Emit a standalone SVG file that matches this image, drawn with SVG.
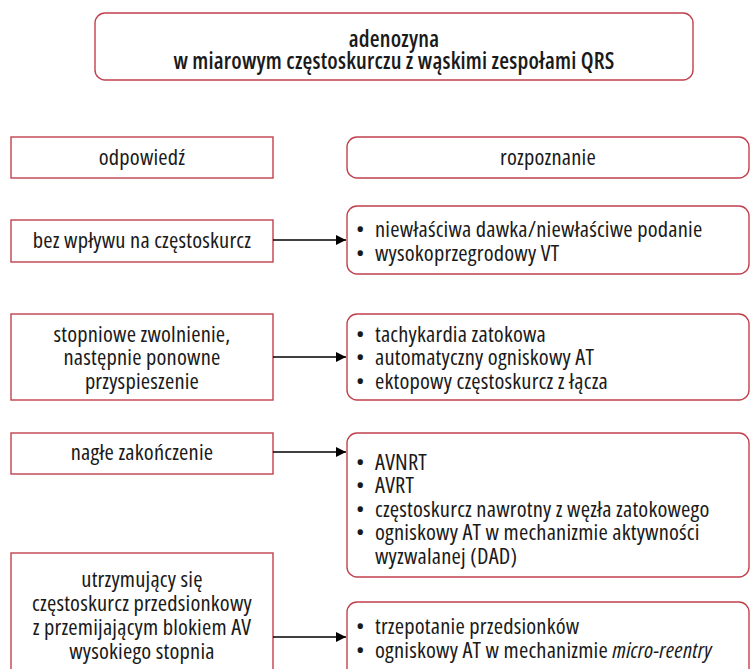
<svg xmlns="http://www.w3.org/2000/svg" width="750" height="669" viewBox="0 0 750 669">
  <style>
    .box { fill: #ffffff; stroke: #c2404d; stroke-width: 1.4; }
    .t { font-family: "Open Sans", "Noto Sans", "DejaVu Sans", sans-serif; font-stretch: 75%; font-size: 22.5px; letter-spacing: 0.2px; fill: #1a1a1a; }
    .c { text-anchor: middle; }
    .b { font-weight: 600; }
    .link { stroke: #000000; stroke-width: 1.4; fill: none; marker-end: url(#arrow); }
  </style>
  <defs>
    <marker id="arrow" viewBox="0 0 10 10" refX="10" refY="5" markerWidth="10" markerHeight="10" markerUnits="userSpaceOnUse" orient="auto">
      <path d="M0,0 L10,5 L0,10 Z" fill="#000000"/>
    </marker>
  </defs>

  <!-- title -->
  <g id="title">
    <rect class="box" x="95" y="13" width="598" height="67" rx="10"/>
    <text class="t c b" x="394" y="47">adenozyna</text>
    <text class="t c b" x="394" y="69">w miarowym częstoskurczu z wąskimi zespołami QRS</text>
  </g>

  <!-- column headers -->
  <g id="head-response">
    <rect class="box" x="11" y="137" width="262" height="41"/>
    <text class="t c" x="142" y="165">odpowiedź</text>
  </g>
  <g id="head-diagnosis">
    <rect class="box" x="347" y="137" width="402" height="41" rx="10"/>
    <text class="t c" x="548" y="165">rozpoznanie</text>
  </g>

  <!-- responses -->
  <g id="resp-none">
    <rect class="box" x="11" y="220" width="262" height="42"/>
    <text class="t c" x="142" y="248">bez wpływu na częstoskurcz</text>
  </g>
  <g id="resp-slowing">
    <rect class="box" x="11" y="314" width="262" height="86"/>
    <text class="t c" x="142" y="342">stopniowe zwolnienie,</text>
    <text class="t c" x="142" y="365">następnie ponowne</text>
    <text class="t c" x="142" y="389">przyspieszenie</text>
  </g>
  <g id="resp-termination">
    <rect class="box" x="11" y="433" width="262" height="41"/>
    <text class="t c" x="142" y="460">nagłe zakończenie</text>
  </g>
  <g id="resp-avblock">
    <rect class="box" x="11" y="553" width="262" height="120"/>
    <text class="t c" x="142" y="587">utrzymujący się</text>
    <text class="t c" x="142" y="611">częstoskurcz przedsionkowy</text>
    <text class="t c" x="142" y="635">z przemijającym blokiem AV</text>
    <text class="t c" x="142" y="659">wysokiego stopnia</text>
  </g>

  <!-- diagnoses -->
  <g id="dx-none">
    <rect class="box" x="347" y="206" width="402" height="68" rx="10"/>
    <text class="t" x="356" y="237">•</text><text class="t" x="375" y="237">niewłaściwa dawka/niewłaściwe podanie</text>
    <text class="t" x="356" y="261">•</text><text class="t" x="375" y="261">wysokoprzegrodowy VT</text>
  </g>
  <g id="dx-slowing">
    <rect class="box" x="347" y="314" width="402" height="86" rx="10"/>
    <text class="t" x="356" y="342">•</text><text class="t" x="375" y="342">tachykardia zatokowa</text>
    <text class="t" x="356" y="365">•</text><text class="t" x="375" y="365">automatyczny ogniskowy AT</text>
    <text class="t" x="356" y="389">•</text><text class="t" x="375" y="389">ektopowy częstoskurcz z łącza</text>
  </g>
  <g id="dx-termination">
    <rect class="box" x="347" y="433" width="402" height="144" rx="10"/>
    <text class="t" x="356" y="470">•</text><text class="t" x="375" y="470">AVNRT</text>
    <text class="t" x="356" y="493">•</text><text class="t" x="375" y="493">AVRT</text>
    <text class="t" x="356" y="517">•</text><text class="t" x="375" y="517">częstoskurcz nawrotny z węzła zatokowego</text>
    <text class="t" x="356" y="540">•</text><text class="t" x="375" y="540">ogniskowy AT w mechanizmie aktywności</text>
    <text class="t" x="375" y="564">wyzwalanej (DAD)</text>
  </g>
  <g id="dx-avblock">
    <rect class="box" x="347" y="602" width="402" height="80" rx="10"/>
    <text class="t" x="356" y="634">•</text><text class="t" x="375" y="634">trzepotanie przedsionków</text>
    <text class="t" x="356" y="658">•</text><text class="t" x="375" y="658">ogniskowy AT w mechanizmie <tspan font-style="italic">micro-reentry</tspan></text>
  </g>

  <!-- connectors -->
  <g id="connectors">
    <line class="link" x1="273" y1="240" x2="346" y2="240"/>
    <line class="link" x1="273" y1="357" x2="346" y2="357"/>
    <line class="link" x1="273" y1="452" x2="346" y2="452"/>
    <line class="link" x1="273" y1="637" x2="346" y2="637"/>
  </g>
</svg>
